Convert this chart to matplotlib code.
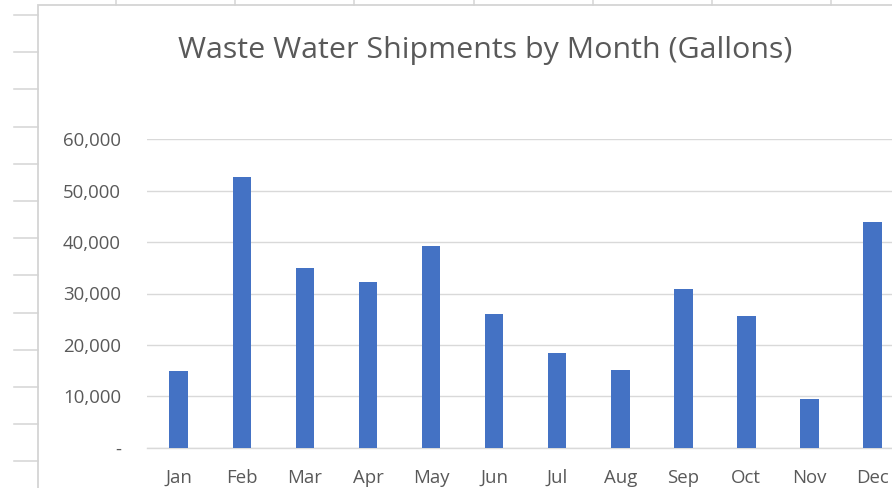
import matplotlib
matplotlib.use("Agg")
import matplotlib.pyplot as plt
from matplotlib.ticker import FuncFormatter

months = ["Jan", "Feb", "Mar", "Apr", "May", "Jun",
          "Jul", "Aug", "Sep", "Oct", "Nov", "Dec"]
gallons = [14900, 52600, 34900, 32300, 39200, 26100,
           18500, 15200, 30800, 25700, 9400, 43900]
y_ticks = [0, 10000, 20000, 30000, 40000, 50000, 60000]

W, H = 892, 488
plt.rcParams["font.family"] = ["Open Sans", "DejaVu Sans"]
text_col = "#595959"
grid_col = "#D9D9D9"
bar_col = "#4472C4"

fig = plt.figure(figsize=(W / 100, H / 100), dpi=100)

# spreadsheet behind the chart, in pixel coordinates
bg = fig.add_axes([0, 0, 1, 1])
bg.set_xlim(0, W)
bg.set_ylim(H, 0)
bg.axis("off")
cell_col = "#D4D4D4"
for k in range(13):
    y = 15 + 37.2 * k
    bg.plot([14, 38], [y, y], color=cell_col, lw=1.1)
for k in range(7):
    x = 116 + 119.2 * k
    bg.plot([x, x], [0, 5], color=cell_col, lw=1.1)
bg.add_patch(plt.Rectangle((38, 5), 1000, 1000, facecolor="white",
                           edgecolor=cell_col, lw=1.3))

# plot area (runs past the right edge, as in the screenshot)
left, right, bottom, top = 147.3, 903.9, 447.7, 139.3
ax = fig.add_axes([left / W, (H - bottom) / H, (right - left) / W, (bottom - top) / H])
ax.set_facecolor("none")
x = range(len(months))
ax.bar(x, gallons, width=0.297, color=bar_col, zorder=3)
ax.set_xlim(-0.5, len(months) - 0.5)
ax.set_ylim(0, 60000)
ax.set_yticks(y_ticks)
ax.yaxis.set_major_formatter(FuncFormatter(lambda v, p: "-" if v == 0 else f"{int(v):,}"))
ax.set_xticks(list(x))
ax.set_xticklabels(months)
ax.grid(axis="y", color=grid_col, lw=1.0, zorder=0)
ax.tick_params(axis="y", length=0, pad=19, labelsize=13.4, labelcolor=text_col)
ax.tick_params(axis="x", length=0, pad=15.5, labelsize=13.4, labelcolor=text_col)
for s in ["top", "right", "left"]:
    ax.spines[s].set_visible(False)
ax.spines["bottom"].set_color(grid_col)
ax.spines["bottom"].set_linewidth(1.0)

fig.text(485 / W, 1 - 58.3 / H, "Waste Water Shipments by Month (Gallons)",
         ha="center", va="baseline", fontsize=21.9, color=text_col)

fig.savefig("out.png", dpi=100)
